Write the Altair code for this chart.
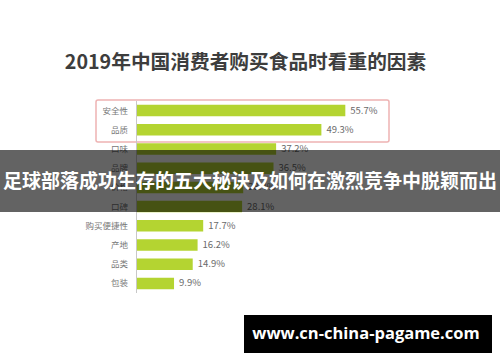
import altair as alt
import pandas as pd

categories = ["安全性", "品质", "口味", "品牌", "价格", "口碑", "购买便捷性", "产地", "品类", "包装"]
values = [55.7, 49.3, 37.2, 36.5, 28.4, 28.1, 17.7, 16.2, 14.9, 9.9]
value_labels = ["55.7%", "49.3%", "37.2%", "36.5%", "28.4%", "28.1%", "17.7%", "16.2%", "14.9%", "9.9%"]

title_text = "2019年中国消费者购买食品时看重的因素"
banner_text = "足球部落成功生存的五大秘诀及如何在激烈竞争中脱颖而出"
watermark_text = "www.cn-china-pagame.com"

FONT = "Noto Sans CJK SC"

df = pd.DataFrame({"cat": categories, "val": values, "lab": value_labels})
one = pd.DataFrame({"k": [0]})

xscale = alt.Scale(domain=[0, 100], range=[137, 511], nice=False, zero=True)
yscale = alt.Scale(domain=categories, range=[101, 293], paddingInner=0.4, paddingOuter=0.2)

base = alt.Chart(df)

box = alt.Chart(one).mark_rect(
    fill="white", fillOpacity=0, stroke="#eeb3b3", strokeWidth=1.5, cornerRadius=2
).encode(x=alt.value(96), x2=alt.value(389), y=alt.value(100), y2=alt.value(142))

axis_line = alt.Chart(one).mark_rule(color="#c8c8c8", strokeWidth=1).encode(
    x=alt.value(136.5), y=alt.value(101), y2=alt.value(293)
)

bars = base.mark_bar(color="#b4d431").encode(
    x=alt.X("val:Q", scale=xscale, axis=None),
    y=alt.Y("cat:N", scale=yscale, axis=None, sort=categories),
)

cat_text = base.mark_text(
    align="right", baseline="middle", font=FONT, fontSize=8.5, color="#777777"
).encode(
    x=alt.value(128),
    y=alt.Y("cat:N", scale=yscale, axis=None, sort=categories),
    text="cat:N",
)

val_text = base.mark_text(
    align="left", baseline="middle", dx=5, font=FONT, fontSize=9.5, color="#6a6a6a"
).encode(
    x=alt.X("val:Q", scale=xscale, axis=None),
    y=alt.Y("cat:N", scale=yscale, axis=None, sort=categories),
    text="lab:N",
)

title = alt.Chart(one).mark_text(
    align="center", baseline="middle", font=FONT, fontSize=19.7, fontWeight="bold", color="#3d3d3d"
).encode(x=alt.value(245.5), y=alt.value(63), text=alt.value(title_text))

banner = alt.Chart(one).mark_rect(color="black", opacity=0.61).encode(
    x=alt.value(0), x2=alt.value(500), y=alt.value(150), y2=alt.value(212)
)
banner_t = alt.Chart(one).mark_text(
    align="center", baseline="middle", font=FONT, fontSize=19, fontWeight="bold", color="white"
).encode(x=alt.value(250), y=alt.value(182), text=alt.value(banner_text))

wm = alt.Chart(one).mark_rect(color="black").encode(
    x=alt.value(244), x2=alt.value(492), y=alt.value(315), y2=alt.value(353)
)
wm_t = alt.Chart(one).mark_text(
    align="center", baseline="middle", font="Open Sans", fontSize=16.5, fontWeight="bold", color="white"
).encode(x=alt.value(366), y=alt.value(334), text=alt.value(watermark_text))

chart = alt.layer(
    box, axis_line, bars, cat_text, val_text, title, banner, banner_t, wm, wm_t
).properties(
    width=500, height=362, padding=0, autosize=alt.AutoSizeParams(type="none"), background="white"
).configure_view(stroke=None)

chart.save("out.html", embed_options={"renderer": "svg", "actions": False})
